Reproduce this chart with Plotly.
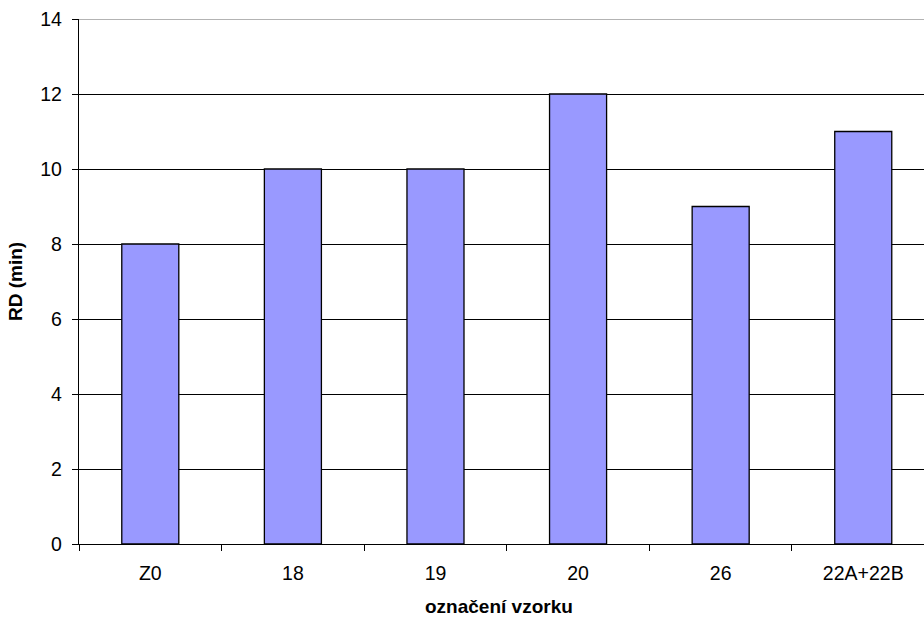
import plotly.graph_objects as go

# Sample labels and measured RD values (minutes)
samples = ["Z0", "18", "19", "20", "26", "22A+22B"]
rd_min = [8, 10, 10, 12, 9, 11]

y_ticks = [0, 2, 4, 6, 8, 10, 12, 14]

FONT = "Liberation Sans, Arial, sans-serif"

fig = go.Figure(
    go.Bar(
        x=samples,
        y=rd_min,
        width=0.4,
        marker=dict(color="#9999FF", line=dict(color="#000000", width=1.3)),
    )
)

fig.update_layout(
    width=924,
    height=618,
    margin=dict(l=79, r=0, t=19, b=74),
    paper_bgcolor="white",
    plot_bgcolor="white",
    showlegend=False,
    font=dict(family=FONT, size=19.5, color="#000000"),
    bargap=0.6,
)

fig.update_xaxes(
    type="category",
    range=[-0.5, 5.426],
    tickson="boundaries",
    ticks="outside",
    ticklen=6,
    tickcolor="#000000",
    showgrid=False,
    showline=True,
    linecolor="#000000",
    linewidth=1.3,
    ticklabelstandoff=11,
)

fig.update_yaxes(
    range=[0, 14],
    tickvals=y_ticks,
    ticks="outside",
    ticklen=6,
    tickcolor="#000000",
    showgrid=True,
    gridcolor="#000000",
    gridwidth=1,
    zeroline=False,
    showline=True,
    linecolor="#000000",
    linewidth=1.3,
    ticklabelstandoff=6,
    title=dict(text="<b>RD (min)</b>", font=dict(family=FONT, size=19), standoff=12),
)

# the topmost gridline is drawn lighter
fig.add_shape(
    type="line", xref="paper", yref="y",
    x0=0, x1=1, y0=y_ticks[-1], y1=y_ticks[-1],
    line=dict(color="#9a9a9a", width=1.6),
)

# x-axis title below the category labels
fig.add_annotation(
    text="<b>označení vzorku</b>",
    xref="paper", yref="paper",
    x=0.497, y=-0.1195,
    xanchor="center", yanchor="middle",
    showarrow=False,
    font=dict(family=FONT, size=19),
)

fig.write_html("out.html")
